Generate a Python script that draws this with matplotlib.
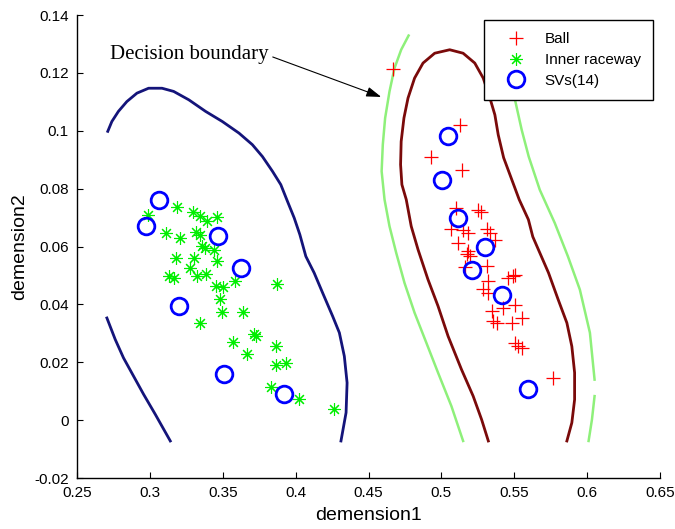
import matplotlib
matplotlib.use("Agg")
import matplotlib.pyplot as plt

plt.rcParams['font.family'] = ['Liberation Sans', 'DejaVu Sans']

# ---------------- data ----------------
ball_x = [0.4667, 0.5126, 0.4926, 0.5138, 0.5103, 0.5253, 0.5271, 0.5069, 0.5149, 0.5184,
          0.5310, 0.5333, 0.5367, 0.5115, 0.5184, 0.5195, 0.5310, 0.5160, 0.5322, 0.5287,
          0.5322, 0.5459, 0.5494, 0.5505, 0.5505, 0.5425, 0.5344, 0.5356, 0.5379, 0.5482,
          0.5551, 0.5505, 0.5528, 0.5551, 0.5769, 0.5175]
ball_y = [0.1213, 0.1021, 0.0911, 0.0865, 0.0733, 0.0727, 0.0721, 0.0661, 0.0658, 0.0647,
          0.0661, 0.0647, 0.0624, 0.0612, 0.0583, 0.0566, 0.0532, 0.0530, 0.0480, 0.0454,
          0.0440, 0.0492, 0.0497, 0.0503, 0.0399, 0.0388, 0.0376, 0.0342, 0.0336, 0.0336,
          0.0353, 0.0267, 0.0255, 0.0250, 0.0146, 0.0575]

inner_x = [0.2984, 0.3187, 0.3294, 0.3342, 0.3393, 0.3462, 0.3113, 0.3209, 0.3313, 0.3342,
           0.3359, 0.3375, 0.3439, 0.3182, 0.3301, 0.3462, 0.3278, 0.3129, 0.3168, 0.3324,
           0.3388, 0.3581, 0.3457, 0.3503, 0.3875, 0.3480, 0.3496, 0.3641, 0.3342, 0.3714,
           0.3726, 0.3570, 0.3664, 0.3868, 0.3868, 0.3932, 0.3829, 0.4024, 0.4261]
inner_y = [0.0710, 0.0735, 0.0721, 0.0707, 0.0689, 0.0701, 0.0645, 0.0630, 0.0649, 0.0641,
           0.0601, 0.0595, 0.0589, 0.0561, 0.0561, 0.0549, 0.0526, 0.0497, 0.0492, 0.0497,
           0.0505, 0.0482, 0.0463, 0.0460, 0.0471, 0.0417, 0.0373, 0.0373, 0.0336, 0.0298,
           0.0290, 0.0271, 0.0230, 0.0255, 0.0189, 0.0196, 0.0115, 0.0074, 0.0039]

sv_x = [0.3065, 0.2973, 0.3464, 0.3623, 0.3198, 0.3508, 0.3917,
        0.5046, 0.5005, 0.5115, 0.5298, 0.5211, 0.5418, 0.5592]
sv_y = [0.0762, 0.0672, 0.0635, 0.0526, 0.0396, 0.0158, 0.0089,
        0.0983, 0.0831, 0.0699, 0.0599, 0.0520, 0.0431, 0.0106]

# decision boundary curves
inner_upper_x = [0.2711, 0.2739, 0.2784, 0.2842, 0.2911, 0.2991, 0.3083, 0.3163, 0.3267,
                 0.3382, 0.3497, 0.3611, 0.3703, 0.3772, 0.3841, 0.3898, 0.3944, 0.3990,
                 0.4029, 0.4070, 0.4127, 0.4185, 0.4254, 0.4300, 0.4334, 0.4353, 0.4346,
                 0.4311]
inner_upper_y = [0.0998, 0.1032, 0.1067, 0.1101, 0.1130, 0.1147, 0.1147, 0.1136, 0.1107,
                 0.1067, 0.1032, 0.0992, 0.0952, 0.0911, 0.0860, 0.0814, 0.0756, 0.0699,
                 0.0641, 0.0566, 0.0509, 0.0440, 0.0359, 0.0302, 0.0221, 0.0129, 0.0026,
                 -0.0072]
inner_lower_x = [0.2705, 0.2762, 0.2819, 0.2888, 0.2957, 0.3037, 0.3140]
inner_lower_y = [0.0353, 0.0279, 0.0215, 0.0152, 0.0089, 0.0020, -0.0072]

ball_in_x = [0.5322, 0.5276, 0.5218, 0.5138, 0.5046, 0.4977, 0.4908, 0.4840, 0.4793, 0.4759,
             0.4729, 0.4720, 0.4724, 0.4743, 0.4771, 0.4816, 0.4874, 0.4954, 0.5057, 0.5149,
             0.5229, 0.5287, 0.5333, 0.5367, 0.5390, 0.5427, 0.5534, 0.5597, 0.5627, 0.5735,
             0.5801, 0.5861, 0.5895, 0.5914, 0.5914, 0.5895, 0.5861]
ball_in_y = [-0.0072, 0.0002, 0.0083, 0.0175, 0.0290, 0.0394, 0.0486, 0.0589, 0.0670, 0.0762,
             0.0814, 0.0883, 0.0963, 0.1044, 0.1113, 0.1182, 0.1234, 0.1268, 0.1280, 0.1268,
             0.1234, 0.1182, 0.1113, 0.1055, 0.0986, 0.0907, 0.0762, 0.0693, 0.0634, 0.0509,
             0.0417, 0.0336, 0.0255, 0.0164, 0.0071, -0.0009, -0.0072]

ball_out_l_x = [0.4775, 0.4724, 0.4678, 0.4644, 0.4614, 0.4598, 0.4590, 0.4610, 0.4644,
                0.4690, 0.4747, 0.4816, 0.4897, 0.4977, 0.5069, 0.5149]
ball_out_l_y = [0.1329, 0.1280, 0.1216, 0.1136, 0.1044, 0.0952, 0.0860, 0.0762, 0.0670,
                0.0578, 0.0474, 0.0371, 0.0267, 0.0164, 0.0048, -0.0072]
ball_out_r1_x = [0.5330, 0.5400, 0.5505, 0.5551, 0.5599, 0.5675, 0.5778, 0.5868, 0.5950,
                 0.6019, 0.6051]
ball_out_r1_y = [0.1330, 0.1240, 0.1107, 0.1003, 0.0911, 0.0796, 0.0681, 0.0566, 0.0451,
                 0.0302, 0.0140]
ball_out_r2_x = [0.6051, 0.6033, 0.6010]
ball_out_r2_y = [0.0083, 0.0002, -0.0072]

xticks = [0.25, 0.3, 0.35, 0.4, 0.45, 0.5, 0.55, 0.6, 0.65]
xtick_labels = ['0.25', '0.3', '0.35', '0.4', '0.45', '0.5', '0.55', '0.6', '0.65']
yticks = [-0.02, 0, 0.02, 0.04, 0.06, 0.08, 0.1, 0.12, 0.14]
ytick_labels = ['-0.02', '0', '0.02', '0.04', '0.06', '0.08', '0.1', '0.12', '0.14']

note_text = 'Decision boundary'
note_text_pos = (0.2727, 0.1262)
note_arrow_start = (0.3843, 0.1255)
note_arrow_tip = (0.4587, 0.1117)

# ---------------- figure ----------------
fig = plt.figure(figsize=(6.75, 5.29), dpi=100)
ax = fig.add_axes([0.1141, 0.0964, 0.8637, 0.8752])

navy = '#14147a'
maroon = '#7a0a0a'
lgreen = '#8ef07a'

ax.plot(inner_upper_x, inner_upper_y, color=navy, lw=2.0, zorder=2)
ax.plot(inner_lower_x, inner_lower_y, color=navy, lw=2.0, zorder=2)
ax.plot(ball_in_x, ball_in_y, color=maroon, lw=2.0, zorder=2)
ax.plot(ball_out_l_x, ball_out_l_y, color=lgreen, lw=1.8, zorder=2)
ax.plot(ball_out_r1_x, ball_out_r1_y, color=lgreen, lw=1.8, zorder=2)
ax.plot(ball_out_r2_x, ball_out_r2_y, color=lgreen, lw=1.8, zorder=2)

ax.plot(ball_x, ball_y, linestyle='none', marker='+', color='#ff0000', ms=10, mew=0.9,
        label='Ball', zorder=3)
ax.plot(inner_x, inner_y, linestyle='none', marker=(8, 2, 0), color='#00ee00', ms=9, mew=0.8,
        label='Inner raceway', zorder=3)
ax.plot(sv_x, sv_y, linestyle='none', marker='o', mfc='none', mec='#0000ff', ms=12, mew=2.0,
        label='SVs(14)', zorder=4)

ax.set_xlim(0.25, 0.65)
ax.set_ylim(-0.02, 0.14)
ax.set_xticks(xticks)
ax.set_xticklabels(xtick_labels)
ax.set_yticks(yticks)
ax.set_yticklabels(ytick_labels)
ax.tick_params(direction='in', length=4, width=0.8, labelsize=11, pad=6,
               top=False, right=False)
ax.spines['top'].set_visible(False)
ax.spines['right'].set_visible(False)
for s in ('left', 'bottom'):
    ax.spines[s].set_linewidth(1.0)

ax.set_xlabel('demension1', fontsize=14, labelpad=5)
ax.set_ylabel('demension2', fontsize=14, labelpad=4)

ax.text(note_text_pos[0], note_text_pos[1], note_text, ha='left', va='center',
        fontsize=15, family='Liberation Serif')
ax.annotate('', xy=note_arrow_tip, xytext=note_arrow_start,
            arrowprops=dict(arrowstyle='-|>,head_length=0.9,head_width=0.3',
                            color='black', lw=0.8, shrinkA=0, shrinkB=0))

leg = ax.legend(loc='upper right', bbox_to_anchor=(0.988, 0.989), borderaxespad=0,
                fontsize=11, frameon=True, fancybox=False, framealpha=1, edgecolor='black',
                handlelength=2.6, borderpad=0.8, labelspacing=0.44, handletextpad=0.6)
leg.get_frame().set_linewidth(1.0)
leg.set_zorder(10)

fig.savefig('out.png', dpi=100)
